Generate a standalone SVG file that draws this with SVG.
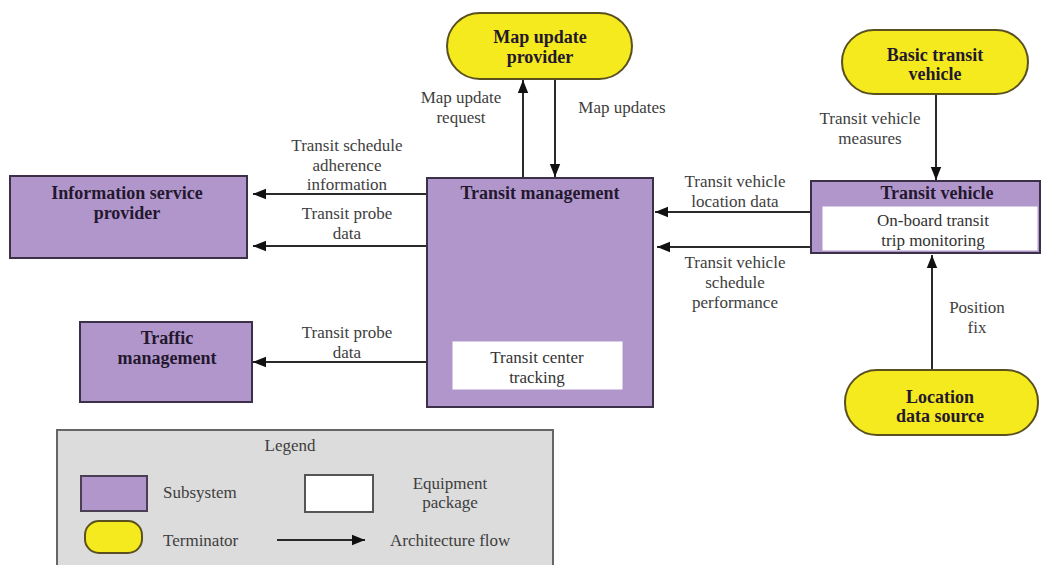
<svg xmlns="http://www.w3.org/2000/svg" width="1044" height="565" viewBox="0 0 1044 565">
  <style>
    .sub { fill: #b196cc; stroke: #3c3048; stroke-width: 2; }
    .eq { fill: #ffffff; stroke: #ffffff; stroke-width: 1; }
    .term { fill: #f5ea1e; stroke: #5a5020; stroke-width: 2; }
    .title { font-family: "Liberation Serif", "Times New Roman", serif; font-size: 18px; font-weight: bold; fill: #24182e; text-anchor: middle; }
    .lbl { font-family: "Liberation Serif", "Times New Roman", serif; font-size: 17px; fill: #3e3e3e; text-anchor: middle; }
    .lbl-s { font-family: "Liberation Serif", "Times New Roman", serif; font-size: 17px; fill: #3e3e3e; }
    .eqtxt { font-family: "Liberation Serif", "Times New Roman", serif; font-size: 17px; fill: #333333; text-anchor: middle; }
    .flow { stroke: #2a2a2a; stroke-width: 2; fill: none; marker-end: url(#arrow); }
  </style>
  <defs>
    <marker id="arrow" viewBox="0 0 10 10" refX="10" refY="5" markerWidth="6.5" markerHeight="6.5" markerUnits="strokeWidth" orient="auto">
      <path d="M0,1 L10,5 L0,9 Z" fill="#111111"/>
    </marker>
  </defs>
  <rect width="1044" height="565" fill="#ffffff"/>

  <!-- connectors -->
  <g id="connectors">
    <line class="flow" x1="523" y1="178" x2="523" y2="80"/>
    <line class="flow" x1="555" y1="79" x2="555" y2="177"/>
    <line class="flow" x1="427" y1="194" x2="253" y2="194"/>
    <line class="flow" x1="427" y1="246" x2="253" y2="246"/>
    <line class="flow" x1="427" y1="362" x2="253" y2="362"/>
    <line class="flow" x1="811" y1="212" x2="655" y2="212"/>
    <line class="flow" x1="811" y1="247" x2="657" y2="247"/>
    <line class="flow" x1="936" y1="94" x2="936" y2="180"/>
    <line class="flow" x1="932" y1="370" x2="932" y2="255"/>

    <text class="lbl" x="461" y="103">Map update</text>
    <text class="lbl" x="461" y="123">request</text>
    <text class="lbl" x="622" y="113">Map updates</text>

    <text class="lbl" x="347" y="151">Transit schedule</text>
    <text class="lbl" x="347" y="171">adherence</text>
    <text class="lbl" x="347" y="190">information</text>
    <text class="lbl" x="347" y="219">Transit probe</text>
    <text class="lbl" x="347" y="239">data</text>
    <text class="lbl" x="347" y="338">Transit probe</text>
    <text class="lbl" x="347" y="358">data</text>

    <text class="lbl" x="735" y="187">Transit vehicle</text>
    <text class="lbl" x="735" y="207">location data</text>
    <text class="lbl" x="735" y="268">Transit vehicle</text>
    <text class="lbl" x="735" y="288">schedule</text>
    <text class="lbl" x="735" y="308">performance</text>

    <text class="lbl" x="870" y="124">Transit vehicle</text>
    <text class="lbl" x="870" y="144">measures</text>

    <text class="lbl" x="977" y="313">Position</text>
    <text class="lbl" x="977" y="333">fix</text>
  </g>

  <!-- terminators -->
  <g id="map-update-provider">
    <rect class="term" x="447" y="13" width="185" height="66" rx="33"/>
    <text class="title" x="540" y="43">Map update</text>
    <text class="title" x="540" y="63">provider</text>
  </g>
  <g id="basic-transit-vehicle">
    <rect class="term" x="842" y="30" width="186" height="64" rx="32"/>
    <text class="title" x="935" y="61">Basic transit</text>
    <text class="title" x="935" y="80">vehicle</text>
  </g>
  <g id="location-data-source">
    <rect class="term" x="845" y="370" width="193" height="65" rx="32"/>
    <text class="title" x="940" y="403">Location</text>
    <text class="title" x="940" y="422">data source</text>
  </g>

  <!-- subsystems -->
  <g id="information-service-provider">
    <rect class="sub" x="10" y="176" width="237" height="82"/>
    <text class="title" x="127" y="199">Information service</text>
    <text class="title" x="127" y="219">provider</text>
  </g>
  <g id="traffic-management">
    <rect class="sub" x="80" y="322" width="172" height="80"/>
    <text class="title" x="167" y="344">Traffic</text>
    <text class="title" x="167" y="364">management</text>
  </g>
  <g id="transit-management">
    <rect class="sub" x="427" y="178" width="226" height="229"/>
    <text class="title" x="540" y="199">Transit management</text>
    <rect class="eq" x="453" y="342" width="169" height="47"/>
    <text class="eqtxt" x="537" y="363">Transit center</text>
    <text class="eqtxt" x="537" y="383">tracking</text>
  </g>
  <g id="transit-vehicle">
    <rect class="sub" x="811" y="181" width="229" height="72"/>
    <text class="title" x="937" y="199">Transit vehicle</text>
    <rect class="eq" x="823" y="207" width="214" height="43"/>
    <text class="eqtxt" x="933" y="226">On-board transit</text>
    <text class="eqtxt" x="933" y="246">trip monitoring</text>
  </g>

  <!-- legend -->
  <g id="legend">
    <rect x="57" y="430" width="496" height="145" fill="#dcdcdc" stroke="#666666" stroke-width="2"/>
    <text class="lbl" x="290" y="451">Legend</text>
    <rect x="81" y="476" width="66" height="35" fill="#b196cc" stroke="#4a3f55" stroke-width="2"/>
    <text class="lbl-s" x="163" y="498">Subsystem</text>
    <rect x="305" y="475" width="68" height="37" fill="#ffffff" stroke="#555555" stroke-width="2"/>
    <text class="lbl" x="450" y="489">Equipment</text>
    <text class="lbl" x="450" y="508">package</text>
    <rect x="85" y="521" width="57" height="32" rx="14" fill="#f5ea1e" stroke="#5a5020" stroke-width="2"/>
    <text class="lbl-s" x="163" y="546">Terminator</text>
    <line class="flow" x1="277" y1="540" x2="365" y2="540"/>
    <text class="lbl-s" x="390" y="546">Architecture flow</text>
  </g>
</svg>
